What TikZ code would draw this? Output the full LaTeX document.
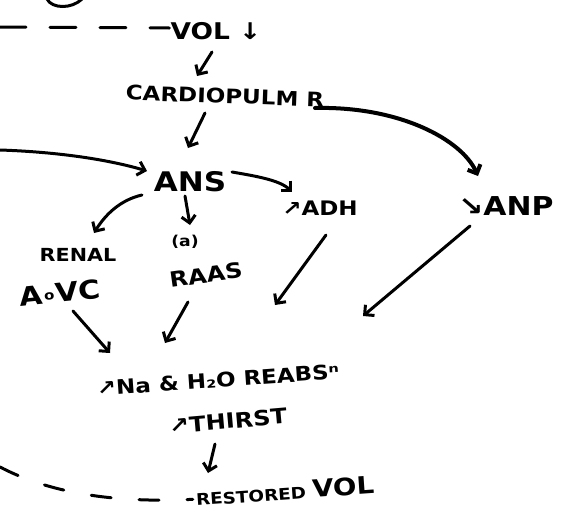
\documentclass[tikz,border=0pt]{standalone}
\usepackage{fontspec}
\setmainfont{DejaVu Sans}[FakeStretch=1.15]
\usetikzlibrary{arrows.meta,calc}
\newcommand{\fs}[1]{\fontsize{#1}{#1}\selectfont}
\begin{document}
\begin{tikzpicture}[x=1pt,y=-1pt,
  lbl/.style={inner sep=1pt, font=\bfseries},
  arr/.style={line width=3pt, line cap=round, line join=round, -{Straight Barb[length=7pt,width=14pt]}},
  thickarr/.style={arr, line width=4pt},
  dashline/.style={line width=3pt, line cap=round, dash pattern=on 26pt off 24pt}]
\useasboundingbox (0,0) rectangle (571,528);
% nodes
\node[lbl] (vol) at (216,31) {\fs{23}VOL ↓};
\node[lbl, rotate=-2] (cp) at (225,96) {\fs{20}CARDIOPULM R};
\node[lbl] (ans) at (190,182) {\fs{27}ANS};
\node[lbl] (adh) at (320,208) {\fs{20}↗ADH};
\node[lbl] (anp) at (506,206) {\fs{26}↘ANP};
\node[lbl] (renal) at (78,255) {\fs{18}RENAL};
\node[lbl, rotate=6] (aovc) at (60,293) {\fs{26}A\kern1.5pt\raisebox{4pt}{\fs{13}o}\kern1.5pt VC};
\node[lbl] (pa) at (185,242) {\fs{15}(a)};
\node[lbl, rotate=8] (raas) at (206,275) {\fs{21}RAAS};
\node[lbl, rotate=4] (reabs) at (218,380) {\fs{20}↗Na \& H₂O REABSⁿ};
\node[lbl, rotate=5] (thirst) at (228,421) {\fs{21}↗THIRST};
\node[lbl, rotate=4] (rvol) at (285,491) {\fs{16}RESTORED \fs{24}VOL};
\coordinate (lft) at (0,150);
% top curve fragment
\draw[line width=3pt, line cap=round] (47,-1) .. controls (52,9) and (72,9) .. (82,-1);
% dashed lines
\draw[dashline] (0,27) -- ($(vol.west)+(0,-3)$);
\draw[dashline, dash pattern=on 20pt off 28pt] (0,467) .. controls (40,488) and (100,504) .. ($(rvol.west)+(-2,2)$);
% arrows
\draw[arr] ($(vol)+(-4,21)$) -- ($(cp)+(-28,-20)$);
\draw[arr] ($(cp)+(-20,17)$) -- ($(ans)+(-2,-34)$);
\draw[arr] (lft) .. controls (60,152) and (110,160) .. ($(ans)+(-43,-11)$);
\draw[thickarr] ($(cp)+(90,12)$) .. controls (400,106) and (462,140) .. ($(anp)+(-28,-30)$);
\draw[arr] ($(ans)+(42,-10)$) .. controls (255,176) and (280,180) .. ($(adh)+(-28,-16)$);
\draw[arr] ($(ans)+(-48,13)$) .. controls (120,200) and (105,215) .. ($(renal)+(16,-22)$);
\draw[arr] ($(ans)+(-5,14)$) -- ($(pa)+(5,-17)$);
\draw[arr] ($(aovc)+(13,18)$) -- ($(reabs)+(-108,-27)$);
\draw[arr] ($(raas)+(-18,27)$) -- ($(reabs)+(-53,-37)$);
\draw[arr] ($(adh)+(6,27)$) -- ($(reabs)+(57,-75)$);
\draw[arr] ($(anp)+(-36,20)$) -- ($(reabs)+(145,-64)$);
\draw[arr] ($(thirst)+(-13,23)$) -- ($(rvol)+(-77,-18)$);
\end{tikzpicture}
\end{document}
